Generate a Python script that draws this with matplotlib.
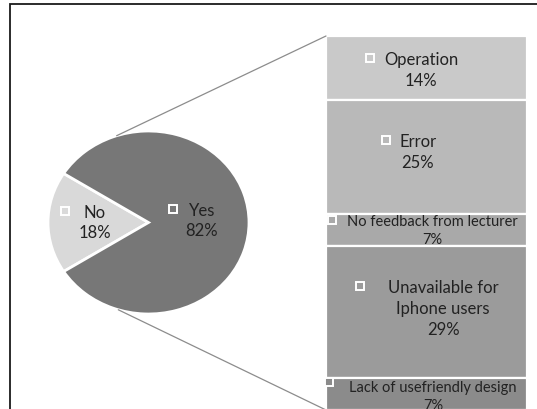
import numpy as np
import matplotlib
matplotlib.use("Agg")
import matplotlib.pyplot as plt
from matplotlib.patches import Rectangle, ConnectionPatch

plt.rcParams['font.family'] = ['Lato', 'DejaVu Sans']

# Pie: did the students report problems?
pie_labels = ['No', 'Yes']
pie_values = [18, 82]
pie_colors = ['#d9d9d9', '#777777']

# Breakdown of the "Yes" share, listed top to bottom
bar_labels = ['Operation', 'Error', 'No feedback from lecturer',
              'Unavailable for\nIphone users', 'Lack of usefriendly design']
bar_values = [14, 25, 7, 29, 7]
bar_colors = ['#c9c9c9', '#b9b9b9', '#a9a9a9', '#9b9b9b', '#8b8b8b']

W, H = 537, 410
TEXT = '#222222'

fig = plt.figure(figsize=(W / 100, H / 100), dpi=100)


def fx(px):
    return px / W


def fy(py):
    return 1 - py / H


# outer frame (right and bottom run off the canvas)
fig.patches.append(Rectangle((fx(9.5), -0.1), 1.2, fy(4.5) + 0.1,
                             transform=fig.transFigure, fill=False,
                             ec='#1a1a1a', lw=1.3, zorder=0))

# pie
ax_pie = fig.add_axes([fx(48), fy(315), fx(249) - fx(48), fy(132) - fy(315)])
start = 180 - pie_values[0] / sum(pie_values) * 360 / 2
ax_pie.pie(pie_values, colors=pie_colors, startangle=start, radius=1,
           wedgeprops=dict(edgecolor='white', linewidth=2))
ax_pie.set_aspect('auto')
ax_pie.set_xlim(-1, 1)
ax_pie.set_ylim(-1, 1)

# stacked bar
total = sum(bar_values)
ax_bar = fig.add_axes([fx(326), fy(411), fx(527) - fx(326), fy(37) - fy(411)])
bottoms = total - np.cumsum(bar_values)
ax_bar.bar([0.5] * len(bar_values), bar_values, bottom=bottoms, width=1,
           color=bar_colors, edgecolor='white', linewidth=1.6)
ax_bar.set_xlim(0, 1)
ax_bar.set_ylim(0, total)
ax_bar.axis('off')

# connector lines from the pie to the bar
for ang, yb in [(108.5, total), (252.5, 0)]:
    a = np.radians(ang)
    con = ConnectionPatch(xyA=(np.cos(a), np.sin(a)), coordsA=ax_pie.transData,
                          xyB=(0, yb), coordsB=ax_bar.transData,
                          color='#8c8c8c', lw=0.9)
    fig.add_artist(con)


def key(px, py, color):
    fig.add_artist(Rectangle((fx(px - 4), fy(py + 4)), 8 / W, 8 / H,
                             transform=fig.transFigure, fc=color,
                             ec='white', lw=1.4, zorder=5))


def label(px, py, lines, size, step):
    for i, s in enumerate(lines):
        fig.text(fx(px), fy(py + i * step), s, ha='center', va='center',
                 color=TEXT, fontsize=size, zorder=6)


# label layout: key x, key y, text centre x, first line y, font size, line step
pie_pos = [(65, 212, 95, 213, 12, 20), (173, 210, 202, 211, 12, 20)]
for (kx, ky, tx, ty, fs, st), name, v, c in zip(pie_pos, pie_labels, pie_values, pie_colors):
    key(kx, ky, c)
    label(tx, ty, [name, f'{v}%'], fs, st)

bar_pos = [(370, 59, 421, 60, 12, 21), (386, 141, 418, 142, 12, 21),
           (332, 221, 432, 222, 10.5, 18), (360, 287, 443, 288, 12, 21),
           (329, 383, 433, 388, 10.5, 18)]
for (kx, ky, tx, ty, fs, st), name, v, c in zip(bar_pos, bar_labels, bar_values, bar_colors):
    key(kx, ky, c)
    label(tx, ty, name.split('\n') + [f'{v}%'], fs, st)

fig.savefig('out.png', dpi=100)
